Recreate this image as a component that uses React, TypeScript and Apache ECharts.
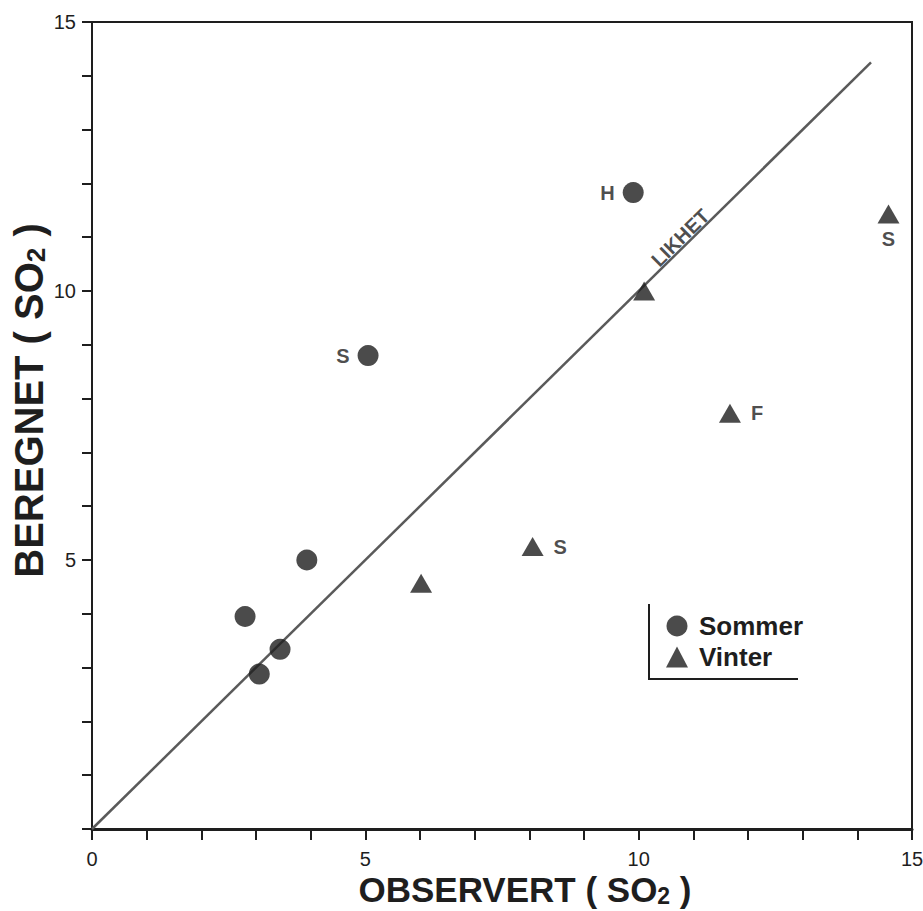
import React, { useEffect, useRef } from 'react';
import * as echarts from 'echarts';

// ---- data ----
const sommerPoints: number[][] = [
  [9.9, 11.83],
  [5.05, 8.8],
  [3.93, 5.0],
  [2.8, 3.95],
  [3.44, 3.34],
  [3.06, 2.88],
];
const sommerLabels: string[] = ['H', 'S', '', '', '', ''];

const vinterPoints: number[][] = [
  [10.1, 10.0],
  [14.57, 11.43],
  [11.67, 7.73],
  [8.06, 5.25],
  [6.02, 4.57],
];
const vinterLabels: string[] = ['', 'S', 'F', 'S', ''];

const likhetLine: number[][] = [
  [0, 0],
  [14.25, 14.25],
];
const likhetText = 'LIKHET';
const likhetTextAt: number[] = [10.76, 10.99];

const axisMin = 0;
const axisMax = 15;
const tickStep = 1;
const labelStep = 5;

const xTitle = '{t|OBSERVERT ( SO}{s|2}{t| )}';
const yTitle = '{t|BEREGNET ( SO}{s|2}{t| )}';
const seriesNames = ['Sommer', 'Vinter'];

// ---- style / layout ----
const INK = '#1e1e1e';
const FONT = '"Liberation Sans", Arial, sans-serif';
const sommerPlacement = ['left', 'left', 'left', 'left', 'left', 'left'];
const vinterPlacement = ['right', 'bottom', 'right', 'right', 'right'];

export default function App() {
  const ref = useRef<HTMLDivElement>(null);

  useEffect(() => {
    if (!ref.current) return;
    const chart = echarts.init(ref.current, undefined, { renderer: 'svg' });

    const pointLabel = (fontSize: number) => ({
      show: true,
      color: INK,
      fontFamily: FONT,
      fontSize,
      fontWeight: 'bold' as const,
      distance: 8,
    });

    const titleRich = (size: number) => ({
      t: { fontFamily: FONT, fontSize: size, fontWeight: 'bold', color: INK },
      s: {
        fontFamily: FONT,
        fontSize: Math.round(size * 0.65),
        fontWeight: 'bold',
        color: INK,
        padding: [Math.round(size * 0.35), 0, 0, 0],
      },
    });

    const option: any = {
      animation: false,
      backgroundColor: '#ffffff',
      grid: {
        left: 92,
        right: 11,
        top: 22,
        bottom: 82,
        containLabel: false,
        outerBoundsMode: 'none',
        show: true,
        borderColor: INK,
        borderWidth: 2,
        backgroundColor: 'transparent',
      },
      xAxis: {
        type: 'value',
        min: axisMin,
        max: axisMax,
        interval: tickStep,
        name: xTitle,
        nameLocation: 'middle',
        nameGap: 43,
        nameMoveOverlap: false,
        nameTextStyle: { rich: titleRich(35), padding: [0, 0, 0, 46] },
        axisLine: { show: true, lineStyle: { color: INK, width: 3 } },
        axisTick: { show: true, inside: false, length: 11, lineStyle: { color: INK, width: 2 } },
        axisLabel: {
          margin: 20,
          fontFamily: FONT,
          fontSize: 20,
          color: INK,
          formatter: (v: number) => (v % labelStep === 0 ? String(v) : ''),
        },
        splitLine: { show: false },
      },
      yAxis: {
        type: 'value',
        min: axisMin,
        max: axisMax,
        interval: tickStep,
        name: yTitle,
        nameLocation: 'middle',
        nameGap: 43,
        nameMoveOverlap: false,
        nameTextStyle: { rich: titleRich(40), padding: [0, 0, 0, 50] },
        axisLine: { show: true, lineStyle: { color: INK, width: 2 } },
        axisTick: { show: true, inside: false, length: 10, lineStyle: { color: INK, width: 2 } },
        axisLabel: {
          margin: 16,
          fontFamily: FONT,
          fontSize: 20,
          color: INK,
          formatter: (v: number) => (v % labelStep === 0 && v !== 0 ? String(v) : ''),
        },
        splitLine: { show: false },
      },
      legend: {
        data: seriesNames,
        orient: 'vertical',
        left: 661,
        top: 608,
        itemWidth: 22,
        itemHeight: 21,
        itemGap: 5,
        textStyle: {
          fontFamily: FONT,
          fontSize: 26,
          fontWeight: 'bold',
          color: INK,
          padding: [0, 0, 0, 6],
        },
      },
      graphic: [
        {
          type: 'polyline',
          shape: { points: [[649, 604], [649, 679], [798, 679]] },
          style: { stroke: INK, lineWidth: 2, fill: 'none' },
          z: 10,
        },
      ],
      series: [
        {
          name: 'LIKHET',
          type: 'line',
          data: likhetLine,
          symbol: 'none',
          lineStyle: { color: '#5a5a5a', width: 2.5 },
          z: 1,
        },
        {
          name: 'likhet-label',
          type: 'scatter',
          data: [likhetTextAt],
          symbolSize: 0,
          silent: true,
          label: {
            show: true,
            position: 'inside',
            formatter: likhetText,
            rotate: 44.5,
            fontFamily: FONT,
            fontSize: 20,
            fontWeight: 'bold',
            color: INK,
          },
        },
        {
          name: seriesNames[0],
          type: 'scatter',
          symbol: 'circle',
          symbolSize: 21,
          itemStyle: { color: INK },
          data: sommerPoints.map((p, i) => ({
            value: p,
            label: {
              ...pointLabel(20),
              show: sommerLabels[i] !== '',
              formatter: sommerLabels[i],
              position: sommerPlacement[i],
            },
          })),
          z: 3,
        },
        {
          name: seriesNames[1],
          type: 'scatter',
          symbol: 'triangle',
          symbolSize: [22, 19],
          itemStyle: { color: INK },
          data: vinterPoints.map((p, i) => ({
            value: p,
            label: {
              ...pointLabel(20),
              show: vinterLabels[i] !== '',
              formatter: vinterLabels[i],
              position: vinterPlacement[i],
              distance: vinterPlacement[i] === 'bottom' ? 5 : 10,
            },
          })),
          z: 3,
        },
      ],
    };

    chart.setOption(option);
    return () => chart.dispose();
  }, []);

  return <div ref={ref} style={{ width: 923, height: 911, position: 'absolute', left: 0, top: 0 }} />;
}
